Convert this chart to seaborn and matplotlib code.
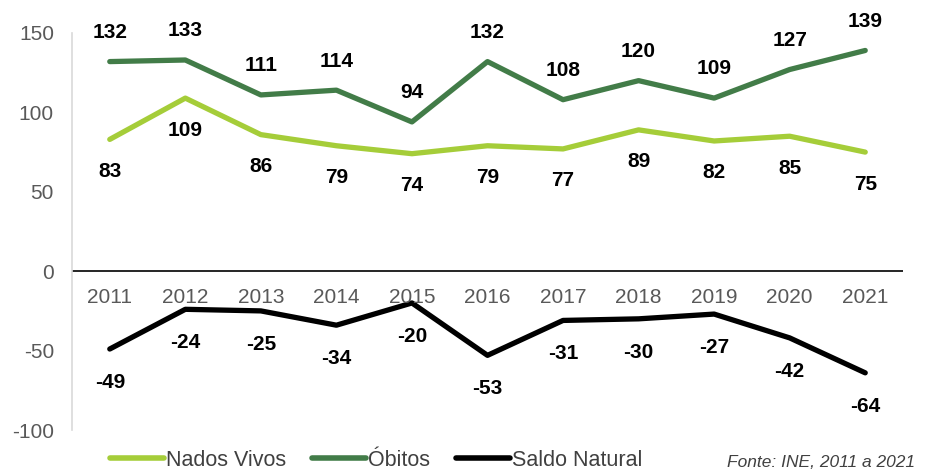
import matplotlib
matplotlib.use("Agg")
import matplotlib.pyplot as plt
import seaborn as sns
import pandas as pd

years = ["2011", "2012", "2013", "2014", "2015", "2016", "2017", "2018", "2019", "2020", "2021"]
nados_vivos = [83, 109, 86, 79, 74, 79, 77, 89, 82, 85, 75]
obitos = [132, 133, 111, 114, 94, 132, 108, 120, 109, 127, 139]
saldo_natural = [-49, -24, -25, -34, -20, -53, -31, -30, -27, -42, -64]

series_names = ["Nados Vivos", "Óbitos", "Saldo Natural"]
series_values = [nados_vivos, obitos, saldo_natural]
colors = ["#A5CD39", "#427C48", "#000000"]
label_side = [-1, 1, -1]  # -1: value below the point, 1: above

sns.set_theme(style="white")
plt.rcParams["font.family"] = ["Liberation Sans", "DejaVu Sans"]

rows = []
for name, vals in zip(series_names, series_values):
    for i, (yr, v) in enumerate(zip(years, vals)):
        rows.append({"idx": i, "Ano": yr, "Série": name, "Valor": v})
df = pd.DataFrame(rows)

fig = plt.figure(figsize=(9.3, 4.72), dpi=100)
ax = fig.add_axes([72 / 930, 1 - 430 / 472, (903 - 72) / 930, (430 - 33) / 472])

sns.lineplot(data=df, x="idx", y="Valor", hue="Série", hue_order=series_names,
             palette=colors, linewidth=3.8, ax=ax, legend=False,
             solid_capstyle="round", solid_joinstyle="round")

offsets = [23, 21, 24]
for name, vals, side, off in zip(series_names, series_values, label_side, offsets):
    for i, v in enumerate(vals):
        ax.annotate(str(v), (i, v), xytext=(0, off * side), textcoords="offset points",
                    ha="center", va="center", fontsize=15, fontweight="bold",
                    color="black", annotation_clip=False)

ax.set_xlim(-0.5, len(years) - 0.5)
ax.set_ylim(-100, 150)
ax.set_yticks([-100, -50, 0, 50, 100, 150])
ax.set_yticklabels(["-100", "-50", "0", "50", "100", "150"])
ax.tick_params(axis="y", colors="#595959", labelsize=15, length=0, pad=13)
ax.set_xticks([])
ax.set_xlabel("")
ax.set_ylabel("")

for sp in ["top", "right", "bottom"]:
    ax.spines[sp].set_visible(False)
ax.spines["left"].set_color("#D9D9D9")
ax.spines["left"].set_linewidth(1.2)

ax.axhline(0, color="black", linewidth=1.2, zorder=1)
for i, yr in enumerate(years):
    ax.text(i, -10.5, yr, ha="center", va="top", fontsize=15, color="#595959")

handles = [plt.Line2D([], [], color=c, linewidth=4, solid_capstyle="round") for c in colors]
fig.legend(handles, series_names, loc="lower center", bbox_to_anchor=(376 / 930, -0.038),
           ncol=3, frameon=False, fontsize=15.5, handlelength=2.5, handletextpad=0.1,
           columnspacing=1.2, labelcolor="#404040")

fig.text(915 / 930, 2 / 472, "Fonte: INE, 2011 a 2021", ha="right", va="bottom",
         fontsize=12.5, style="italic", color="#404040")

fig.savefig("out.png", dpi=100)
